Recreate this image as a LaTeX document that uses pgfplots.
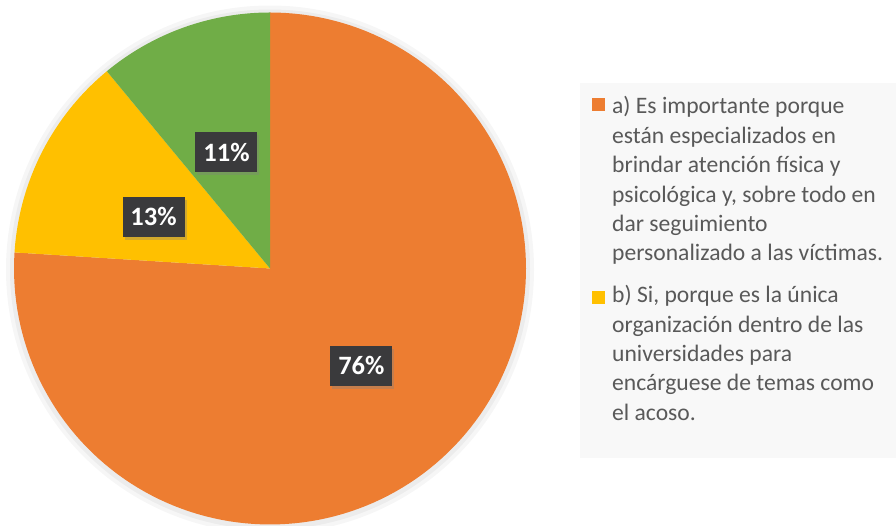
\documentclass[border=0pt]{standalone}
\usepackage{pgfplots}
\pgfplotsset{compat=1.18}
\usepackage{fontspec}
\setmainfont{Carlito}
\usetikzlibrary{shadows}
\definecolor{cOr}{HTML}{ED7D31}
\definecolor{cYe}{HTML}{FFC000}
\definecolor{cGr}{HTML}{70AD47}
\definecolor{lblbg}{HTML}{3A3A3C}
\definecolor{legtxt}{HTML}{595959}
\definecolor{legbg}{HTML}{F8F8F8}
\begin{document}
\begin{tikzpicture}[
  lbl/.style={fill=lblbg, text=white, font=\bfseries\fontsize{26.5}{26.5}\selectfont,
    minimum width=62pt, minimum height=40pt, inner sep=0pt,
    drop shadow={opacity=0.35, shadow xshift=2pt, shadow yshift=-3pt}},
  legtext/.style={anchor=base west, inner sep=0pt, text=legtxt,
    font=\fontsize{23.6}{29.4}\selectfont}]
% percentages
\def\pA{76}\def\pB{13}\def\pC{11}
\pgfmathsetmacro\aA{90-3.6*\pA}
\pgfmathsetmacro\aB{\aA-3.6*\pB}
\pgfmathsetmacro\aC{\aB-3.6*\pC}
\begin{axis}[
  width=896pt, height=526pt, scale only axis,
  xmin=-1.0547, xmax=2.4453, ymin=-1.0059, ymax=1.0488,
  hide axis, clip=false,
]
% background of the legend
\fill[legbg] (axis description cs:0.6473,0.8422) rectangle (axis description cs:1,0.1293);
% soft shadow round the pie
\fill[black, opacity=0.035] (axis cs:0,-0.004) circle[radius=264pt];
\fill[black, opacity=0.04] (axis cs:0,-0.004) circle[radius=260pt];
\addplot[fill=cOr, draw=none, domain=\aA:90, samples=150, variable=\t]
  ({cos(\t)},{sin(\t)}) -- (axis cs:0,0) -- cycle;
\addplot[fill=cYe, draw=none, domain=\aB:\aA, samples=40, variable=\t]
  ({cos(\t)},{sin(\t)}) -- (axis cs:0,0) -- cycle;
\addplot[fill=cGr, draw=none, domain=\aC:\aB, samples=40, variable=\t]
  ({cos(\t)},{sin(\t)}) -- (axis cs:0,0) -- cycle;
\node[lbl] at (axis cs:0.357,-0.379) {\pA\%};
\node[lbl] at (axis cs:-0.455,0.203) {\pB\%};
\node[lbl] at (axis cs:-0.170,0.455) {\pC\%};
% legend
\fill[cOr] (axis description cs:0.6607,0.8137) rectangle (axis description cs:0.6752,0.7890);
\node[legtext] at (axis description cs:0.6830,0.7833)
  {\parbox[t]{280pt}{a) Es importante porque\newline están especializados en\newline brindar atención física y\newline psicológica y, sobre todo en\newline dar seguimiento\newline personalizado a las víctimas.}};
\fill[cYe] (axis description cs:0.6607,0.4470) rectangle (axis description cs:0.6752,0.4223);
\node[legtext] at (axis description cs:0.6830,0.4245)
  {\parbox[t]{280pt}{b) Si, porque es la única\newline organización dentro de las\newline universidades para\newline encárguese de temas como\newline el acoso.}};
\end{axis}
\pgfresetboundingbox
\path (current axis.south west) rectangle (current axis.north east);
\end{tikzpicture}
\end{document}
